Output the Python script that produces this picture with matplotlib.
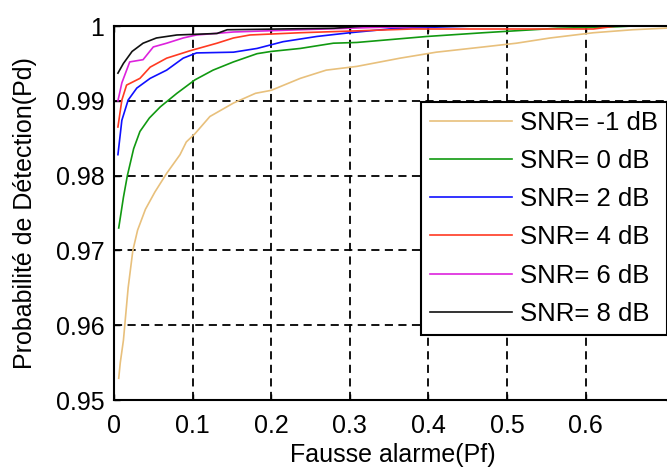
import matplotlib
matplotlib.use("Agg")
import matplotlib.pyplot as plt

plt.rcParams['font.family'] = ['Liberation Sans', 'DejaVu Sans']

labels = ['SNR= -1 dB', 'SNR= 0 dB', 'SNR= 2 dB', 'SNR= 4 dB', 'SNR= 6 dB', 'SNR= 8 dB']
colors = ['#E8C07C', '#119911', '#1010FF', '#FF3A22', '#DD22DD', '#111111']

# courbes (Pf, Pd)
pf_m1 = [0.006, 0.008, 0.012, 0.018, 0.024, 0.030, 0.040, 0.052, 0.067, 0.084, 0.092, 0.103, 0.122,
         0.152, 0.180, 0.200, 0.237, 0.270, 0.309, 0.364, 0.410, 0.470, 0.512, 0.555, 0.610, 0.660, 0.700, 0.750]
pd_m1 = [0.9529, 0.9550, 0.9580, 0.9650, 0.9700, 0.9727, 0.9755, 0.9778, 0.9803, 0.9828, 0.9845, 0.9856, 0.9879,
         0.9897, 0.9910, 0.9914, 0.9930, 0.9941, 0.9946, 0.9957, 0.9965, 0.9972, 0.9977, 0.9984, 0.9991, 0.9995, 0.9997, 1.0]

pf_0 = [0.006, 0.012, 0.017, 0.025, 0.033, 0.045, 0.059, 0.080, 0.103, 0.126, 0.152, 0.182, 0.200,
        0.237, 0.279, 0.309, 0.398, 0.470, 0.533, 0.564, 0.640, 0.660]
pd_0 = [0.9730, 0.9771, 0.9800, 0.9836, 0.9859, 0.9877, 0.9892, 0.9910, 0.9928, 0.9941, 0.9952, 0.9963, 0.9966,
        0.9970, 0.9977, 0.9978, 0.9986, 0.9991, 0.9995, 0.9997, 0.9999, 1.0]

pf_2 = [0.005, 0.010, 0.018, 0.029, 0.046, 0.067, 0.088, 0.105, 0.152, 0.182, 0.215, 0.258, 0.300, 0.360, 0.460]
pd_2 = [0.9828, 0.9874, 0.9901, 0.9917, 0.9930, 0.9941, 0.9957, 0.9964, 0.9965, 0.9970, 0.9979, 0.9986, 0.9991, 0.9997, 1.0]

pf_4 = [0.005, 0.010, 0.016, 0.033, 0.046, 0.067, 0.097, 0.131, 0.152, 0.173, 0.237, 0.380, 0.610, 0.640]
pd_4 = [0.9865, 0.9901, 0.9921, 0.9930, 0.9945, 0.9957, 0.9967, 0.9977, 0.9984, 0.9988, 0.9991, 0.9996, 0.9996, 1.0]

pf_6 = [0.005, 0.010, 0.020, 0.037, 0.050, 0.067, 0.088, 0.105, 0.152, 0.237, 0.330, 0.420]
pd_6 = [0.9900, 0.9924, 0.9952, 0.9955, 0.9972, 0.9977, 0.9984, 0.9988, 0.9992, 0.9995, 0.9998, 1.0]

pf_8 = [0.005, 0.012, 0.023, 0.037, 0.054, 0.080, 0.131, 0.144, 0.280, 0.320]
pd_8 = [0.9937, 0.9950, 0.9966, 0.9977, 0.9984, 0.9988, 0.9990, 0.9995, 0.9997, 1.0]

curves = [(pf_m1, pd_m1), (pf_0, pd_0), (pf_2, pd_2), (pf_4, pd_4), (pf_6, pd_6), (pf_8, pd_8)]

xmax = 0.71
fig = plt.figure(figsize=(6.67, 4.71), dpi=100)
# axe legerement coupe a droite, comme l'image d'origine
ax = fig.add_axes([114 / 667, 71 / 471, xmax * 786 / 667, 374 / 471])

for (x, y), c, lab in zip(curves, colors, labels):
    ax.plot(x, y, color=c, lw=1.2, label=lab)

ax.set_xlim(0, xmax)
ax.set_ylim(0.95, 1.0)
ax.set_xticks([0, 0.1, 0.2, 0.3, 0.4, 0.5, 0.6])
ax.set_xticklabels(['0', '0.1', '0.2', '0.3', '0.4', '0.5', '0.6'])
ax.set_yticks([0.95, 0.96, 0.97, 0.98, 0.99, 1.0])
ax.set_yticklabels(['0.95', '0.96', '0.97', '0.98', '0.99', '1'])
ax.tick_params(direction='in', top=True, right=True, labelsize=18, length=4, width=1)
ax.tick_params(axis='x', pad=10)
ax.tick_params(axis='y', pad=7)
ax.grid(True, color='black', linestyle=(0, (4.5, 3)), linewidth=1.3)
for s in ax.spines.values():
    s.set_linewidth(1.5)

ax.set_ylabel('Probabilité de Détection(Pd)', fontsize=18)
ax.yaxis.set_label_coords(-(114 - 37) / (xmax * 786), 0.5)
ax.set_xlabel('Fausse alarme(Pf)', fontsize=18)
ax.xaxis.set_label_coords(0.5, -(443 - 400) / 374)

leg = ax.legend(loc='upper left', bbox_to_anchor=(421 / 667, 1 - 102 / 471),
                bbox_transform=fig.transFigure, fontsize=18.5, handlelength=3.2,
                handletextpad=0.3, labelspacing=0.55, borderaxespad=0, borderpad=0.35,
                fancybox=False, framealpha=1, edgecolor='black')
leg.get_frame().set_linewidth(1.5)

fig.savefig('out.png', dpi=100)
